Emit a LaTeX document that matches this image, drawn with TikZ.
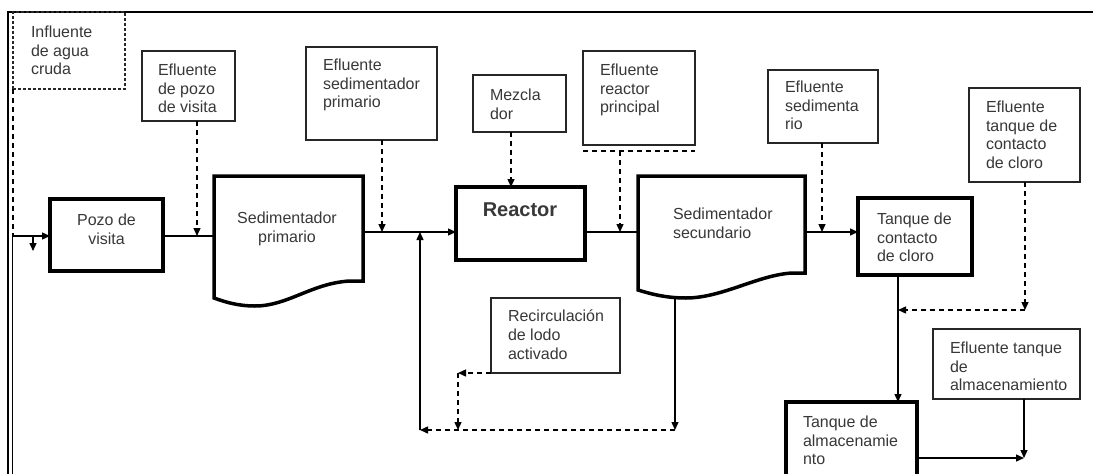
\documentclass[tikz,border=0pt]{standalone}
\usepackage{fontspec}
\setmainfont{Liberation Sans}
\usetikzlibrary{arrows.meta,calc}
\begin{document}
\begin{tikzpicture}[x=1pt,y=-1pt,
  lbox/.style={draw=black!85, line width=1.3pt, inner sep=0pt, outer sep=0pt},
  dbox/.style={lbox, dash pattern=on 3pt off 2pt},
  pbox/.style={draw=black, line width=3.5pt, inner sep=0pt, outer sep=0pt},
  ghost/.style={inner sep=0pt, outer sep=0pt},
  txt/.style={inner sep=0pt, outer sep=0pt, align=left, anchor=north west, text=black!78, font=\fontsize{16}{18.7}\selectfont},
  ctxt/.style={txt, align=center, anchor=north},
  link/.style={draw=black, line width=1.4pt},
  dlink/.style={link, dash pattern=on 5pt off 4pt},
  flow/.style={link, -{Triangle[length=8pt,width=7pt]}},
  dflow/.style={flow, dash pattern=on 5pt off 4pt}]
\useasboundingbox (0,0) rectangle (1093,474);
\clip (0,0) rectangle (1093,474);
\fill[white] (0,0) rectangle (1093,474);

% frame
\draw[line width=2.5pt] (8,480) -- (8,12) -- (1100,12);
\draw[line width=1pt] (12.5,236) -- (12.5,480);

% label boxes
\node[dbox, minimum width=112pt, minimum height=77pt] (inf) at (69,50.5) {};
\node[lbox, minimum width=93pt, minimum height=70pt] (epozo) at (188.5,86) {};
\node[lbox, minimum width=131pt, minimum height=93pt] (esedp) at (371.5,93.5) {};
\node[lbox, minimum width=93pt, minimum height=57pt] (mez) at (519.5,103.5) {};
\node[lbox, minimum width=112pt, minimum height=94pt] (ereac) at (639,98) {};
\node[lbox, minimum width=110pt, minimum height=73pt] (esed) at (823,106.5) {};
\node[lbox, minimum width=111pt, minimum height=94pt] (etcc) at (1024.5,135) {};
\node[lbox, minimum width=129pt, minimum height=75pt] (recirc) at (555.5,335.5) {};
\node[lbox, minimum width=147pt, minimum height=70pt] (eta) at (1006.5,364) {};

% process boxes
\node[pbox, minimum width=113pt, minimum height=72pt] (pozo) at (106.5,235) {};
\node[pbox, line width=4.5pt, minimum width=129pt, minimum height=73pt] (reac) at (520.5,223.5) {};
\node[pbox, minimum width=114pt, minimum height=77pt] (tcc) at (915,236.5) {};
\node[pbox, minimum width=131pt, minimum height=80pt] (ta) at (851.5,442) {};
\node[ghost, minimum width=149pt, minimum height=122pt] (sedp) at (288.5,237) {};
\node[ghost, minimum width=167pt, minimum height=122pt] (seds) at (721.5,237) {};

% document shapes
\draw[line width=3.5pt, line join=miter] (214,176) -- (363,176) -- (363,281) -- (350,281)
  .. controls (312,283) and (288,306) .. (255,306)
  .. controls (238,306) and (225,302) .. (214,298) -- cycle;
\draw[line width=3.5pt, line join=miter] (638,176) -- (805,176) -- (805,273) -- (792,273)
  .. controls (758,275) and (722,298) .. (686,298)
  .. controls (666,298) and (651,294) .. (638,290) -- cycle;

% texts
\node[txt] (inft) at (31,26) {Influente\\de agua\\cruda};
\node[txt] (epozot) at (158,64) {Efluente\\de pozo\\de visita};
\node[txt] (esedpt) at (323,59) {Efluente\\sedimentador\\primario};
\node[txt] (mezt) at (490,89) {Mezcla\\dor};
\node[txt] (ereact) at (600,64) {Efluente\\reactor\\principal};
\node[txt] (esedt) at (785,81) {Efluente\\sedimenta\\rio};
\node[txt] (etcct) at (986,101) {Efluente\\tanque de\\contacto\\de cloro};
\node[txt] (recirct) at (508,310) {Recirculación\\de lodo\\activado};
\node[txt] (etat) at (950,342) {Efluente tanque\\de\\almacenamiento};
\node[ctxt] (pozot) at (106.5,214) {Pozo de\\visita};
\node[ctxt] (sedpt) at (287,212) {Sedimentador\\primario};
\node[txt] (sedst) at (673,208) {Sedimentador\\secundario};
\node[ctxt, font=\fontsize{20}{24}\selectfont\bfseries] (react) at (520,203) {Reactor};
\node[txt] (tcct) at (877,213) {Tanque de\\contacto\\de cloro};
\node[txt] (tat) at (803,416) {Tanque de\\almacenamie\\nto};

% junction coordinates
\coordinate (j0) at (13,236);
\coordinate (j0b) at (33,236);
\coordinate (j1) at (197,236);
\coordinate (j2) at (382,232);
\coordinate (j3) at (420,232);
\coordinate (j4) at (511,187);
\coordinate (j5) at (620,232);
\coordinate (j6) at (822,232);
\coordinate (j7) at (1025,310);
\coordinate (j8) at (898,310);
\coordinate (j9) at (675,430);
\coordinate (j10) at (420,430);
\coordinate (j11) at (458,373);
\coordinate (j12) at (458,430);
\coordinate (j13) at (1024,458);
\coordinate (sb) at (675,297);

% connectors
\draw[dlink] (inf.south west) -- (j0);
\draw[flow] (j0) -- (pozo.west |- j0);
\draw[flow] (j0b) -- ++(0,15);
\draw[link] (pozo.east |- j0) -- (sedp.west |- j0);
\draw[dflow] (epozo.south -| j1) -- (j1);
\draw[flow] (sedp.east |- j2) -- (reac.west |- j2);
\draw[dflow] (esedp.south -| j2) -- (j2);
\draw[dflow] (mez.south -| j4) -- (j4);
\draw[link] (reac.east |- j5) -- (seds.west |- j5);
\draw[dlink] ($(ereac.south west)+(0,6)$) coordinate (erb1) -- ($(ereac.south east)+(0,6)$) coordinate (erb2);
\draw[dflow] (j5 |- erb1) -- (j5);
\draw[flow] (seds.east |- j6) -- (tcc.west |- j6);
\draw[dflow] (esed.south -| j6) -- (j6);
\draw[dflow] (etcc.south -| j7) -- (j7);
\draw[dflow] (j7) -- (j8);
\draw[flow] (tcc.south -| j8) -- (ta.north -| j8);
\draw[flow] (eta.south -| j13) -- (j13);
\draw[flow] (ta.east |- j13) -- (j13);
\draw[flow] (sb) -- (j9);
\draw[dflow] (j9) -- (j10);
\draw[flow] (j10) -- (j3);
\draw[dflow] (recirc.south west) -- (j11);
\draw[dflow] (j11) -- (j12);
\end{tikzpicture}
\end{document}
